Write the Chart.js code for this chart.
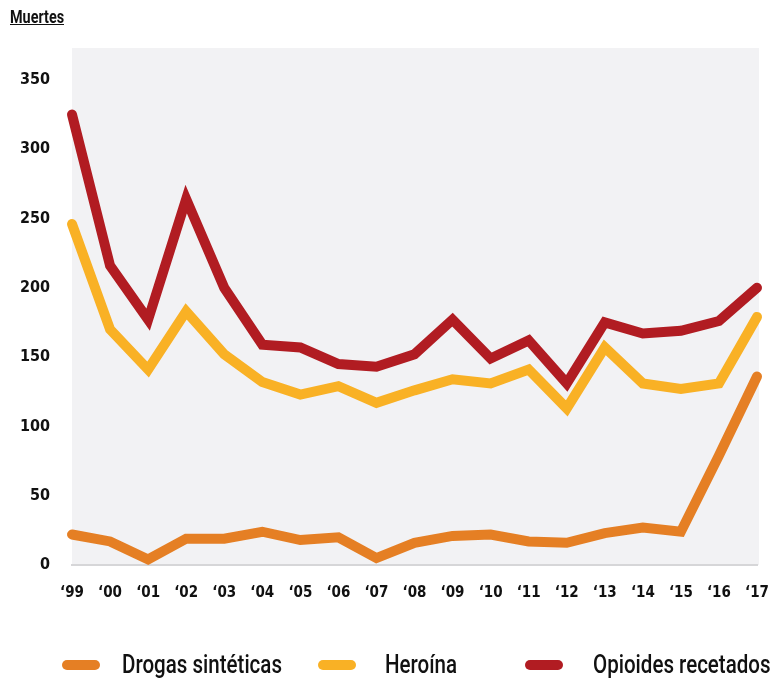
<!DOCTYPE html>
<html>
<head>
<meta charset="utf-8">
<script src="https://cdn.jsdelivr.net/npm/chart.js@4/dist/chart.umd.min.js"></script>
<style>
  html, body { margin: 0; padding: 0; background: #fff; }
  #wrap { position: relative; width: 770px; height: 679px; overflow: hidden; }
  #chart { position: absolute; left: 0; top: 0; }
  .cond { font-family: Roboto, "Liberation Sans", sans-serif; color: #111; white-space: nowrap; transform-origin: 0 50%; transform: scaleX(0.8); }
  #unit { position: absolute; left: 10px; top: 6px; font-size: 18px; font-weight: bold; text-decoration: underline; }
  .lg-mark { position: absolute; height: 10px; border-radius: 5px; }
  .lg-text { position: absolute; font-size: 26px; line-height: 28px; font-weight: 500; transform: scaleX(0.79); }
</style>
</head>
<body>
<div id="wrap">
  <canvas id="chart" width="770" height="679"></canvas>
  <div id="unit" class="cond">Muertes</div>
  <div id="legend"></div>
</div>
<script>
  'use strict'

  const years = ['\u201899', '\u201800', '\u201801', '\u201802', '\u201803', '\u201804', '\u201805', '\u201806', '\u201807', '\u201808',
    '\u201809', '\u201810', '\u201811', '\u201812', '\u201813', '\u201814', '\u201815', '\u201816', '\u201817'];

  const sinteticas = [22, 17, 4, 19, 19, 24, 18, 20, 5, 16, 21, 22, 17, 16, 23, 27, 24, 79, 136];
  const heroina = [246, 170, 141, 183, 152, 132, 123, 129, 117, 126, 134, 131, 141, 113, 157, 131, 127, 131, 179];
  const recetados = [325, 216, 177, 264, 200, 159, 157, 145, 143, 152, 177, 149, 162, 131, 175, 167, 169, 176, 200];

  const seriesLabels = ['Drogas sintéticas', 'Heroína', 'Opioides recetados'];
  const seriesColors = ['#e57f24', '#f9b125', '#b11c22'];
  const yTicks = [0, 50, 100, 150, 200, 250, 300, 350];

  const tickFont = { family: '"DejaVu Sans Condensed", sans-serif', weight: 'bold' };

  const plotBg = {
    id: 'plotBg',
    beforeDraw: function (chart) {
      const a = chart.chartArea;
      const c = chart.ctx;
      c.save();
      c.fillStyle = '#f2f2f4';
      c.fillRect(a.left, a.top, a.right - a.left + 2, a.bottom - a.top);
      c.restore();
    }
  };

  const datasets = [sinteticas, heroina, recetados].map(function (vals, i) {
    return {
      label: seriesLabels[i],
      data: vals,
      borderColor: seriesColors[i],
      backgroundColor: seriesColors[i],
      borderWidth: 10,
      borderCapStyle: 'round',
      borderJoinStyle: 'miter',
      pointRadius: 0,
      tension: 0,
      clip: false
    };
  });

  new Chart(document.getElementById('chart'), {
    type: 'line',
    data: { labels: years, datasets: datasets },
    options: {
      responsive: false,
      animation: false,
      layout: { padding: { top: 48, right: 13, bottom: 0, left: 0 } },
      plugins: { legend: { display: false }, tooltip: { enabled: false } },
      scales: {
        x: {
          offset: false,
          grid: { display: false, drawTicks: false },
          border: { display: true, color: '#d6d6d8', width: 2 },
          ticks: { color: '#111', font: Object.assign({ size: 15 }, tickFont), padding: 19, maxRotation: 0, autoSkip: false },
          afterFit: function (scale) {
            scale.height = 114;
            scale.paddingLeft = 0;
            scale.paddingRight = 0;
          }
        },
        y: {
          min: 0,
          max: 373,
          grid: { display: false, drawTicks: false },
          border: { display: false },
          ticks: { color: '#111', font: Object.assign({ size: 16 }, tickFont), padding: 22 },
          afterBuildTicks: function (scale) { scale.ticks = yTicks.map(function (v) { return { value: v }; }); },
          afterFit: function (scale) { scale.width = 72; }
        }
      }
    },
    plugins: [plotBg]
  });

  // legend built as html so the uneven spacing of the original can be kept
  const legendPos = [[62, 122], [318, 385], [525, 593]];
  const legend = document.getElementById('legend');
  seriesLabels.forEach(function (name, i) {
    const m = document.createElement('div');
    m.className = 'lg-mark';
    m.style.left = legendPos[i][0] + 'px';
    m.style.top = '660px';
    m.style.width = '38px';
    m.style.background = seriesColors[i];
    legend.appendChild(m);
    const t = document.createElement('div');
    t.className = 'lg-text cond';
    t.style.left = legendPos[i][1] + 'px';
    t.style.top = '650px';
    t.textContent = name;
    legend.appendChild(t);
  });
</script>
</body>
</html>
